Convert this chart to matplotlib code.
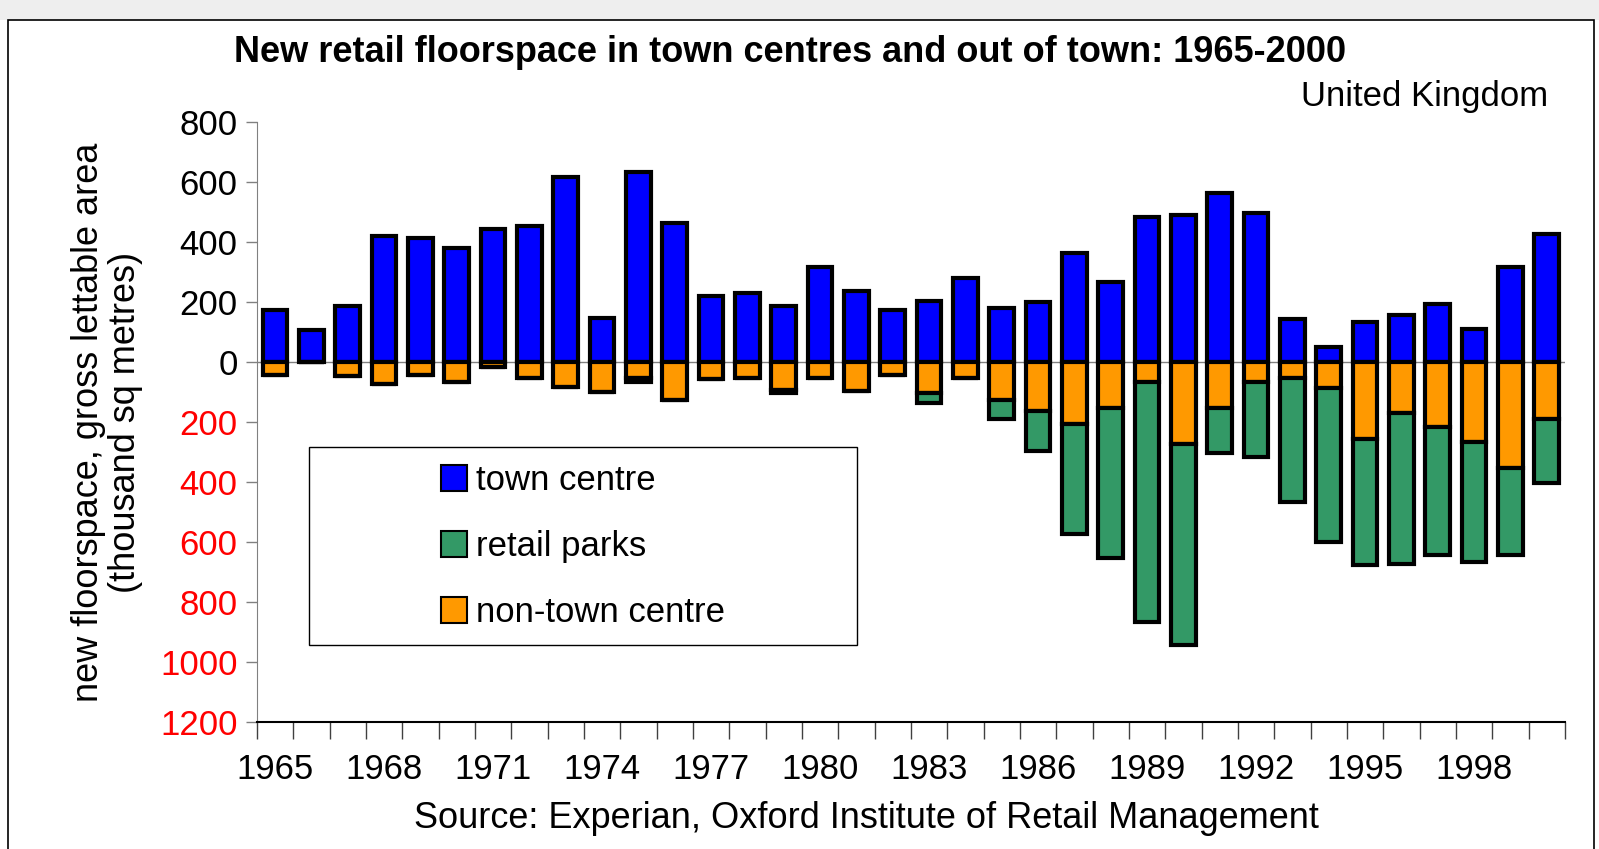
import numpy as np
import matplotlib.pyplot as plt
from matplotlib.patches import Rectangle, Patch

plt.rcParams['font.family'] = ['Liberation Sans', 'DejaVu Sans']

# Datos (miles de m2)
years = list(range(1965, 2001))
town_centre = [173, 108, 187, 420, 414, 380, 444, 453, 617, 148, 633, 462,
               220, 231, 187, 318, 235, 174, 204, 279, 179, 200, 362, 265,
               482, 489, 562, 495, 143, 50, 132, 156, 193, 109, 318, 426]
non_town_centre = [44, 0, 48, 72, 44, 68, 18, 53, 84, 101, 55, 128,
                   58, 55, 95, 53, 96, 44, 103, 53, 127, 163, 208, 154,
                   68, 274, 154, 68, 52, 86, 257, 171, 218, 268, 352, 190]
retail_parks = [0, 0, 0, 0, 0, 0, 0, 0, 0, 0, 12, 0,
                0, 0, 10, 0, 0, 0, 33, 0, 62, 135, 364, 501,
                800, 668, 151, 248, 414, 514, 420, 501, 426, 400, 292, 213]

yticks = [800, 600, 400, 200, 0, -200, -400, -600, -800, -1000, -1200]
label_years = years[::3][:12]

x = np.arange(len(years))
tc = np.array(town_centre)
ntc = -np.array(non_town_centre)
rp = -np.array(retail_parks)

fig = plt.figure(figsize=(15.99, 8.49), dpi=100)
ax = fig.add_axes([0.1607, 0.1496, 0.8180, 0.7067])

w = 0.68
lw = 3.0
ax.bar(x, tc, width=w, color="#0000FF", edgecolor="black", linewidth=lw, zorder=3)
ax.bar(x, ntc, width=w, color="#FF9900", edgecolor="black", linewidth=lw, zorder=3)
ax.bar(x, rp, width=w, bottom=ntc, color="#339966", edgecolor="black", linewidth=lw, zorder=3)
ax.axhline(0, color="#808080", linewidth=1, zorder=2)

ax.set_xlim(-0.5, len(years) - 0.5)
ax.set_ylim(-1200, 800)

# Eje Y
ax.set_yticks(yticks)
ax.set_yticklabels([str(abs(v)) for v in yticks], fontsize=25)
for lab, v in zip(ax.get_yticklabels(), yticks):
    lab.set_color("#FF0000" if v < 0 else "black")
ax.tick_params(axis="y", direction="out", length=8, width=1, color="#808080", pad=6)

# Eje X
ax.set_xticks(x[::3][:12])
ax.set_xticklabels([str(y) for y in label_years], fontsize=25)
ax.set_xticks(np.arange(-0.5, len(years), 1), minor=True)
ax.tick_params(axis="x", which="major", length=0, pad=22)
ax.tick_params(axis="x", which="minor", length=12, width=1, color="#404040", direction="out")

ax.spines["top"].set_visible(False)
ax.spines["right"].set_visible(False)
ax.spines["left"].set_color("#808080")
ax.spines["bottom"].set_color("black")
ax.spines["bottom"].set_linewidth(1.5)

ax.set_ylabel("new floorspace, gross lettable area\n(thousand sq metres)",
              fontsize=26, linespacing=1.1, labelpad=12)

# Textos
fig.text(0.494, 0.938, "New retail floorspace in town centres and out of town: 1965-2000",
         ha="center", va="center", fontsize=26, fontweight="bold")
fig.text(0.968, 0.886, "United Kingdom", ha="right", va="center", fontsize=25)
fig.text(0.542, 0.036, "Source: Experian, Oxford Institute of Retail Management",
         ha="center", va="center", fontsize=26)

# Leyenda
handles = [Patch(facecolor="#0000FF", edgecolor="black", linewidth=1.5),
           Patch(facecolor="#339966", edgecolor="black", linewidth=1.5),
           Patch(facecolor="#FF9900", edgecolor="black", linewidth=1.5)]
ax.legend(handles, ["town centre", "retail parks", "non-town centre"],
          loc="center", bbox_to_anchor=(0.249, 0.2926), frameon=False, fontsize=25,
          handlelength=0.75, handleheight=0.75, handletextpad=0.25, labelspacing=0.95)
ax.add_patch(Rectangle((0.0398, 0.1276), 0.419, 0.33, transform=ax.transAxes,
                       fill=False, edgecolor="black", linewidth=1, zorder=5))

# Marco
fig.patches.append(Rectangle((0, 0.976), 1, 0.024, transform=fig.transFigure,
                             facecolor="#EEEEEE", edgecolor="none"))
fig.patches.append(Rectangle((0.005, -0.01), 0.992, 0.986, transform=fig.transFigure,
                             fill=False, edgecolor="black", linewidth=1.2))

plt.savefig("out.png", dpi=100)
plt.close()
